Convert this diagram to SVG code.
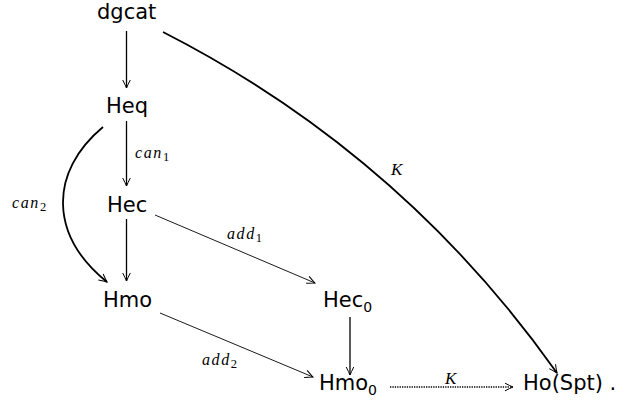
<svg xmlns="http://www.w3.org/2000/svg" width="624" height="413" viewBox="0 0 624 413">
<style>
.n{font-family:"DejaVu Sans",sans-serif;font-size:21px;fill:#000}
.s{font-size:14px}
.m{font-family:"Liberation Serif","DejaVu Serif",serif;font-style:italic;font-size:16px;letter-spacing:1.6px;fill:#000}
.ms{font-style:normal;font-size:12.5px;letter-spacing:0}
.k{font-family:"Liberation Serif","DejaVu Serif",serif;font-style:italic;font-size:17px;fill:#000}
.e{fill:none;stroke:#000}
.th{stroke-width:1.3}
.tn{stroke-width:0.9}
.tk{stroke-width:1.8}
</style>
<defs>
<marker id="ah" markerUnits="userSpaceOnUse" viewBox="-9 -5 10 10" markerWidth="10" markerHeight="10" refX="0" refY="0" orient="auto" overflow="visible">
<path d="M-8,-3.8 Q-3,-1.2 0,0 Q-3,1.2 -8,3.8" fill="none" stroke="#000" stroke-width="1"/>
</marker>
</defs>
<rect width="624" height="413" fill="#fff"/>
<g id="dgcat"><text class="n" x="97" y="19">dgcat</text></g>
<g id="Heq"><text class="n" x="106" y="113">Heq</text></g>
<g id="Hec"><text class="n" x="107" y="212">Hec</text></g>
<g id="Hmo"><text class="n" x="103" y="307">Hmo</text></g>
<g id="Hec0"><text class="n" x="323" y="307">Hec<tspan class="s" dy="5">0</tspan></text></g>
<g id="Hmo0"><text class="n" x="319" y="390">Hmo<tspan class="s" dy="5">0</tspan></text></g>
<g id="HoSpt"><text class="n" x="523" y="390">Ho(Spt) .</text></g>
<g id="connectors">
<line class="e th" x1="126.5" y1="31" x2="126.5" y2="88" marker-end="url(#ah)"/>
<line class="e th" x1="126.5" y1="121" x2="126.5" y2="186" marker-end="url(#ah)"/>
<line class="e th" x1="126.5" y1="219" x2="126.5" y2="281" marker-end="url(#ah)"/>
<path class="e tk" d="M103,127 C49,172 49,235 107,282" marker-end="url(#ah)"/>
<line class="e tn" x1="155" y1="215" x2="315" y2="283" marker-end="url(#ah)"/>
<line class="e tn" x1="160" y1="313" x2="313" y2="377" marker-end="url(#ah)"/>
<line class="e th" x1="350" y1="317" x2="350" y2="375" marker-end="url(#ah)"/>
<path class="e tk" d="M163,32 Q402,154 557,373" marker-end="url(#ah)"/>
<line class="e" stroke-width="1.5" stroke-dasharray="1.3,1.1" x1="390" y1="387" x2="513" y2="387" marker-end="url(#ah)"/>
<text class="m" x="135" y="158">can<tspan class="ms" dy="3">1</tspan></text>
<text class="m" x="12" y="208">can<tspan class="ms" dy="3">2</tspan></text>
<text class="m" x="227" y="239">add<tspan class="ms" dy="3">1</tspan></text>
<text class="m" x="202" y="365">add<tspan class="ms" dy="3">2</tspan></text>
<text class="k" x="391" y="175">K</text>
<text class="k" x="445" y="384">K</text>
</g>
</svg>
